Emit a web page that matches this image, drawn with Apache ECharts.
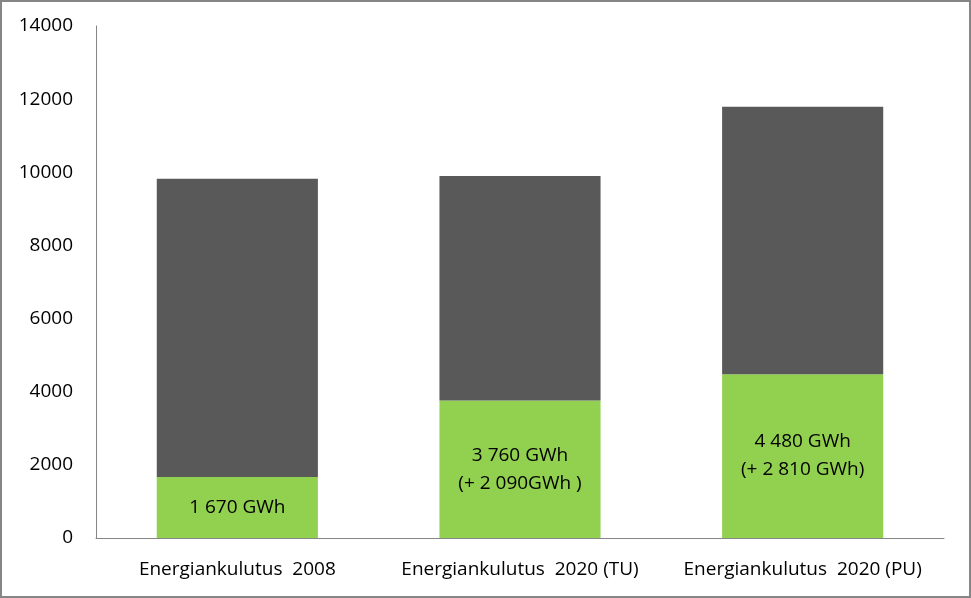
<!DOCTYPE html>
<html>
<head>
<meta charset="utf-8">
<script src="https://cdn.jsdelivr.net/npm/echarts@6/dist/echarts.min.js"></script>
<style>
html,body{margin:0;padding:0;background:#fff;}
#frame{position:absolute;left:0;top:0;width:967px;height:594px;border:2px solid #868686;}
#chart{position:absolute;left:0;top:0;width:971px;height:598px;}
</style>
</head>
<body>
<div id="frame"></div>
<div id="chart"></div>
<script>
const categories = ['Energiankulutus  2008', 'Energiankulutus  2020 (TU)', 'Energiankulutus  2020 (PU)'];
const renewable = [1670, 3760, 4480];
const other = [8150, 6140, 7310];
const barLabels = ['1 670 GWh', '3 760 GWh\n(+ 2 090GWh )', '4 480 GWh\n(+ 2 810 GWh)'];
const yTicks = [0, 2000, 4000, 6000, 8000, 10000, 12000, 14000];

const font = 'Open Sans';
const chart = echarts.init(document.getElementById('chart'));
chart.setOption({
  animation: false,
  backgroundColor: 'transparent',
  grid: {left: 96, right: 27, top: 26, bottom: 60, containLabel: false},
  xAxis: {
    type: 'category',
    data: categories,
    axisLine: {lineStyle: {color: '#868686', width: 1}},
    axisTick: {show: false},
    axisLabel: {color: '#000', fontFamily: font, fontSize: 19, margin: 22, interval: 0, hideOverlap: false}
  },
  yAxis: {
    type: 'value',
    min: yTicks[0],
    max: yTicks[yTicks.length - 1],
    interval: 2000,
    axisLine: {show: true, lineStyle: {color: '#868686', width: 1}},
    axisTick: {show: false},
    splitLine: {show: false},
    axisLabel: {color: '#000', fontFamily: font, fontSize: 19, margin: 23, formatter: v => String(v)}
  },
  series: [
    {
      type: 'bar', stack: 'total', data: renewable, barWidth: '57%',
      itemStyle: {color: '#92D050'},
      label: {
        show: true, position: 'inside', color: '#000', fontFamily: font, fontSize: 19, lineHeight: 28,
        formatter: p => barLabels[p.dataIndex]
      }
    },
    {
      type: 'bar', stack: 'total', data: other, barWidth: '57%',
      itemStyle: {color: '#595959'}
    }
  ]
});
</script>
</body>
</html>
